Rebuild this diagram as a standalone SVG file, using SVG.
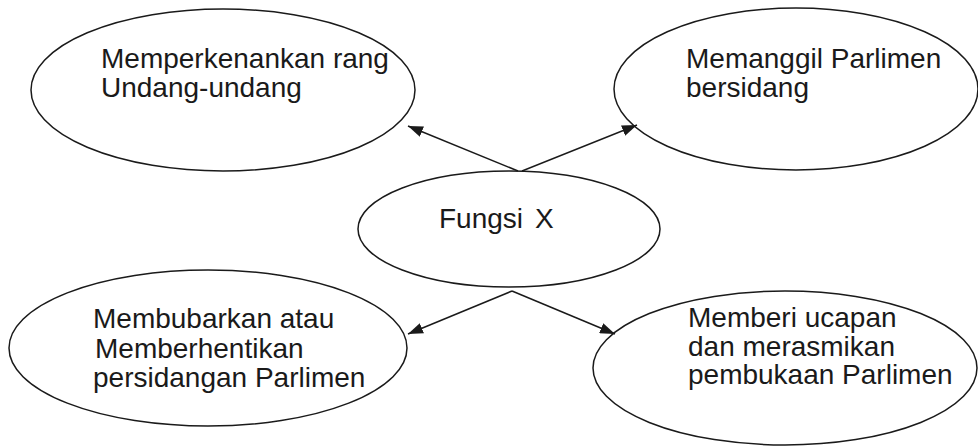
<svg xmlns="http://www.w3.org/2000/svg" width="978" height="447" viewBox="0 0 978 447">
<style>
.node ellipse{fill:#fff;stroke:#1a1a1a;stroke-width:1.5}
.node text{font-family:"Liberation Sans",Arial,sans-serif;font-size:28px;fill:#1a1a1a}
.conn line{stroke:#1a1a1a;stroke-width:1.5}
</style>
<defs>
<marker id="arr" markerUnits="userSpaceOnUse" markerWidth="15" markerHeight="11" refX="15" refY="5.5" orient="auto">
<path d="M0,0 L15,5.5 L0,11 z" fill="#1a1a1a"/>
</marker>
</defs>
<rect width="978" height="447" fill="#fff"/>
<g id="n1" class="node">
<ellipse cx="223" cy="90" rx="192" ry="81"/>
<text x="101" y="68">Memperkenankan rang</text>
<text x="101" y="97">Undang-undang</text>
</g>
<g id="n2" class="node">
<ellipse cx="796" cy="89" rx="182" ry="81"/>
<text x="686" y="68">Memanggil Parlimen</text>
<text x="686" y="97">bersidang</text>
</g>
<g id="n3" class="node">
<ellipse cx="509" cy="229" rx="151" ry="58"/>
<text x="439" y="228">Fungsi<tspan x="535">X</tspan></text>
</g>
<g id="n4" class="node">
<ellipse cx="208" cy="348" rx="199" ry="78"/>
<text x="93" y="328">Membubarkan atau</text>
<text x="95" y="358">Memberhentikan</text>
<text x="93" y="387">persidangan Parlimen</text>
</g>
<g id="n5" class="node">
<ellipse cx="785" cy="368" rx="192" ry="77"/>
<text x="688" y="327">Memberi ucapan</text>
<text x="688" y="356">dan merasmikan</text>
<text x="688" y="384">pembukaan Parlimen</text>
</g>
<g id="connectors" class="conn">
<line x1="518" y1="171" x2="408" y2="126" marker-end="url(#arr)"/>
<line x1="522" y1="171" x2="637" y2="125" marker-end="url(#arr)"/>
<line x1="512" y1="291" x2="408" y2="334" marker-end="url(#arr)"/>
<line x1="512" y1="291" x2="615" y2="334" marker-end="url(#arr)"/>
</g>
</svg>
